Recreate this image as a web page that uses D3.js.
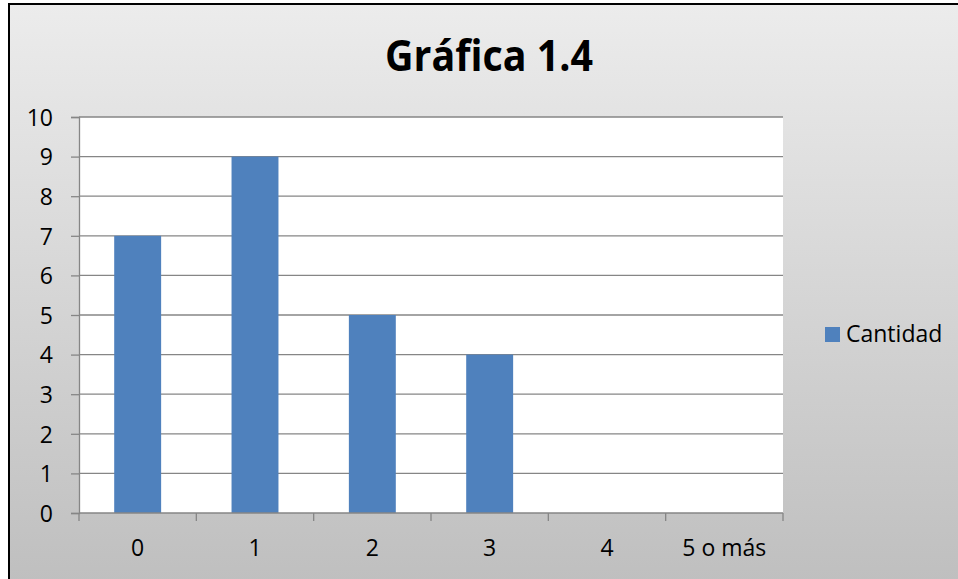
<!DOCTYPE html>
<html>
<head>
<meta charset="utf-8">
<style>
    body { margin: 0; background: #fff; }
    svg { display: block; }
    text { font-family: "Open Sans", "Noto Sans", sans-serif; fill: #000; }
</style>
</head>
<body>
<svg width="958" height="579"></svg>
<script src="https://d3js.org/d3.v7.min.js"></script>
<script>
    // values
    const categories = ["0", "1", "2", "3", "4", "5 o más"];
    const cantidad = [7, 9, 5, 4, 0, 0];
    const yTicks = [0, 1, 2, 3, 4, 5, 6, 7, 8, 9, 10];
    const title = "Gráfica 1.4";
    const seriesName = "Cantidad";

    const svg = d3.select("svg");
    const plot = { left: 79, right: 783, top: 117, bottom: 513 };

    // background gradient of the chart box
    const defs = svg.append("defs");
    const grad = defs.append("linearGradient")
        .attr("id", "bg").attr("x1", 0).attr("y1", 0).attr("x2", 0).attr("y2", 1);
    grad.append("stop").attr("offset", "0%").attr("stop-color", "#ececec");
    grad.append("stop").attr("offset", "100%").attr("stop-color", "#bebebe");

    svg.append("rect")
        .attr("x", 9).attr("y", 4)
        .attr("width", 960).attr("height", 590)
        .attr("fill", "url(#bg)")
        .attr("stroke", "#000")
        .attr("stroke-width", 2);

    svg.append("text")
        .attr("x", 489).attr("y", 71)
        .attr("text-anchor", "middle")
        .attr("font-size", 43)
        .attr("font-weight", "bold")
        .attr("textLength", 208)
        .attr("lengthAdjust", "spacingAndGlyphs")
        .text(title);

    const x = d3.scaleBand()
        .domain(categories)
        .range([plot.left, plot.right])
        .paddingInner(0.6)
        .paddingOuter(0.3);
    const y = d3.scaleLinear().domain([0, 10]).range([plot.bottom, plot.top]);

    // plot area
    svg.append("rect")
        .attr("x", plot.left).attr("y", plot.top)
        .attr("width", plot.right - plot.left)
        .attr("height", plot.bottom - plot.top)
        .attr("fill", "#fff");

    // gridlines + y axis ticks
    const yAxis = d3.axisLeft(y).tickValues(yTicks).tickSize(8).tickFormat(d3.format("d"));
    const gy = svg.append("g").attr("transform", `translate(${plot.left},0)`).call(yAxis);
    gy.select(".domain").attr("stroke", "#868686").attr("stroke-width", 1.3);
    gy.selectAll(".tick line").attr("stroke", "#868686").attr("stroke-width", 1.3);
    gy.selectAll(".tick text")
        .attr("x", -26)
        .attr("dy", "0.36em")
        .attr("font-size", 23)
        .attr("font-family", "'Open Sans', sans-serif")
        .attr("fill", "#000");

    svg.append("g").selectAll("line")
        .data(yTicks.filter(d => d > 0))
        .join("line")
        .attr("x1", plot.left).attr("x2", plot.right)
        .attr("y1", d => y(d)).attr("y2", d => y(d))
        .attr("stroke", "#868686")
        .attr("stroke-width", 1.3);

    // bars
    svg.append("g").selectAll("rect")
        .data(categories.map((c, i) => ({ c, v: cantidad[i] })))
        .join("rect")
        .attr("x", d => x(d.c))
        .attr("y", d => y(d.v))
        .attr("width", x.bandwidth())
        .attr("height", d => y(0) - y(d.v))
        .attr("fill", "#4f81bd");

    // x axis: line, boundary ticks, labels
    const step = x.step();
    const bounds = d3.range(categories.length + 1).map(i => plot.left + i * step);
    svg.append("line")
        .attr("x1", plot.left).attr("x2", plot.right)
        .attr("y1", y(0)).attr("y2", y(0))
        .attr("stroke", "#868686").attr("stroke-width", 1.3);
    svg.append("g").selectAll("line")
        .data(bounds)
        .join("line")
        .attr("x1", d => d).attr("x2", d => d)
        .attr("y1", y(0)).attr("y2", y(0) + 8)
        .attr("stroke", "#868686").attr("stroke-width", 1.3);
    svg.append("g").selectAll("text")
        .data(categories)
        .join("text")
        .attr("x", d => x(d) + x.bandwidth() / 2)
        .attr("y", 556)
        .attr("text-anchor", "middle")
        .attr("font-size", 23)
        .text(d => d);

    // legend
    svg.append("rect")
        .attr("x", 825).attr("y", 327)
        .attr("width", 15).attr("height", 15)
        .attr("fill", "#4f81bd");
    svg.append("text")
        .attr("x", 846).attr("y", 342)
        .attr("font-size", 23)
        .text(seriesName);
</script>
</body>
</html>
